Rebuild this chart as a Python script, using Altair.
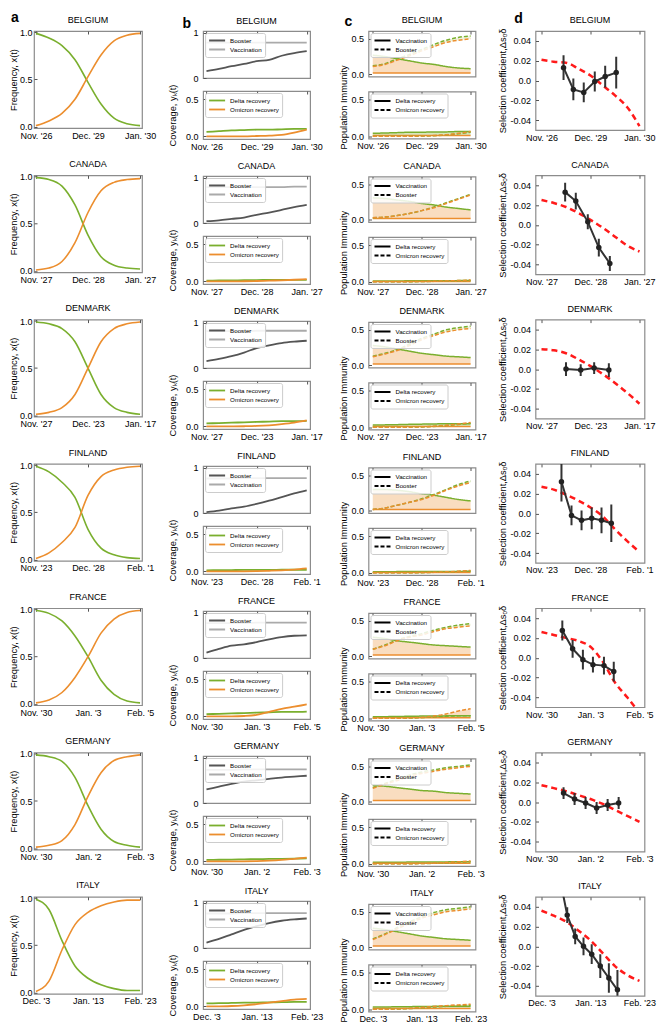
import altair as alt
import pandas as pd

GREEN = "#7aaf2e"
ORANGE = "#ec8e2e"
BOOSTER_GRAY = "#555555"
VACC_GRAY = "#aaaaaa"
RED = "#ff1a1a"
DARK = "#333333"
FONT = "Liberation Sans"

COUNTRIES = ["BELGIUM", "CANADA", "DENMARK", "FINLAND", "FRANCE", "GERMANY", "ITALY"]
T = [0, 1, 2, 3, 4, 5, 6, 7, 8]

X_LABELS = {
    "BELGIUM": ["Nov. '26", "Dec. '29", "Jan. '30"],
    "CANADA": ["Nov. '27", "Dec. '28", "Jan. '27"],
    "DENMARK": ["Nov. '27", "Dec. '23", "Jan. '17"],
    "FINLAND": ["Nov. '23", "Dec. '28", "Feb. '1"],
    "FRANCE": ["Nov. '30", "Jan. '3", "Feb. '5"],
    "GERMANY": ["Nov. '30", "Jan. '2", "Feb. '3"],
    "ITALY": ["Dec. '3", "Jan. '13", "Feb. '23"],
}

# ---- panel a: variant frequencies ----
FREQ_OMICRON = {
    "BELGIUM": [0.01, 0.06, 0.14, 0.29, 0.53, 0.76, 0.91, 0.97, 0.99],
    "CANADA": [0.01, 0.03, 0.10, 0.30, 0.62, 0.85, 0.94, 0.97, 0.98],
    "DENMARK": [0.01, 0.03, 0.08, 0.22, 0.50, 0.78, 0.92, 0.97, 0.99],
    "FINLAND": [0.01, 0.07, 0.18, 0.34, 0.68, 0.88, 0.95, 0.98, 0.99],
    "FRANCE": [0.01, 0.04, 0.12, 0.28, 0.50, 0.75, 0.90, 0.97, 0.99],
    "GERMANY": [0.01, 0.03, 0.08, 0.25, 0.55, 0.80, 0.93, 0.97, 0.99],
    "ITALY": [0.01, 0.12, 0.45, 0.72, 0.85, 0.92, 0.96, 0.98, 0.98],
}
FREQ_DELTA = {
    "BELGIUM": [0.99, 0.94, 0.86, 0.71, 0.47, 0.24, 0.09, 0.03, 0.01],
    "CANADA": [0.99, 0.97, 0.90, 0.70, 0.38, 0.15, 0.06, 0.03, 0.02],
    "DENMARK": [0.99, 0.97, 0.92, 0.78, 0.50, 0.22, 0.08, 0.03, 0.01],
    "FINLAND": [0.99, 0.93, 0.82, 0.66, 0.32, 0.12, 0.05, 0.02, 0.01],
    "FRANCE": [0.99, 0.96, 0.88, 0.72, 0.50, 0.25, 0.10, 0.03, 0.01],
    "GERMANY": [0.99, 0.97, 0.92, 0.75, 0.45, 0.20, 0.07, 0.03, 0.01],
    "ITALY": [0.99, 0.88, 0.55, 0.28, 0.15, 0.08, 0.04, 0.02, 0.02],
}

# ---- panel b: coverage ----
COV_BOOSTER = {
    "BELGIUM": [0.15, 0.20, 0.26, 0.31, 0.37, 0.40, 0.49, 0.55, 0.59],
    "CANADA": [0.04, 0.06, 0.09, 0.12, 0.18, 0.23, 0.29, 0.35, 0.40],
    "DENMARK": [0.15, 0.20, 0.26, 0.34, 0.44, 0.50, 0.55, 0.58, 0.60],
    "FINLAND": [0.02, 0.05, 0.10, 0.14, 0.20, 0.27, 0.35, 0.43, 0.50],
    "FRANCE": [0.12, 0.20, 0.27, 0.30, 0.35, 0.41, 0.46, 0.49, 0.50],
    "GERMANY": [0.30, 0.36, 0.42, 0.47, 0.50, 0.53, 0.56, 0.58, 0.60],
    "ITALY": [0.12, 0.20, 0.30, 0.40, 0.48, 0.55, 0.60, 0.63, 0.65],
}
COV_VACC = {
    "BELGIUM": [0.78, 0.78, 0.78, 0.78, 0.78, 0.78, 0.78, 0.78, 0.78],
    "CANADA": [0.79, 0.79, 0.79, 0.79, 0.79, 0.79, 0.79, 0.80, 0.80],
    "DENMARK": [0.81, 0.81, 0.81, 0.81, 0.82, 0.82, 0.82, 0.82, 0.82],
    "FINLAND": [0.76, 0.76, 0.76, 0.77, 0.77, 0.77, 0.77, 0.77, 0.77],
    "FRANCE": [0.77, 0.77, 0.77, 0.77, 0.78, 0.78, 0.78, 0.78, 0.78],
    "GERMANY": [0.73, 0.73, 0.73, 0.74, 0.74, 0.74, 0.74, 0.74, 0.74],
    "ITALY": [0.76, 0.76, 0.76, 0.77, 0.77, 0.77, 0.77, 0.77, 0.77],
}
COV_DELTA_REC = {
    "BELGIUM": [0.06, 0.07, 0.08, 0.085, 0.09, 0.09, 0.095, 0.10, 0.10],
    "CANADA": [0.01, 0.012, 0.014, 0.016, 0.018, 0.019, 0.02, 0.02, 0.02],
    "DENMARK": [0.04, 0.045, 0.05, 0.055, 0.06, 0.065, 0.07, 0.07, 0.075],
    "FINLAND": [0.015, 0.016, 0.018, 0.02, 0.02, 0.021, 0.022, 0.022, 0.022],
    "FRANCE": [0.03, 0.035, 0.04, 0.045, 0.05, 0.055, 0.06, 0.06, 0.065],
    "GERMANY": [0.02, 0.022, 0.025, 0.028, 0.03, 0.033, 0.035, 0.038, 0.04],
    "ITALY": [0.04, 0.043, 0.046, 0.05, 0.052, 0.055, 0.057, 0.06, 0.06],
}
COV_OMI_REC = {
    "BELGIUM": [0.0, 0.0, 0.0, 0.0, 0.005, 0.01, 0.02, 0.05, 0.09],
    "CANADA": [0.0, 0.0, 0.0, 0.002, 0.005, 0.01, 0.015, 0.022, 0.03],
    "DENMARK": [0.0, 0.0, 0.0, 0.002, 0.006, 0.015, 0.03, 0.05, 0.08],
    "FINLAND": [0.0, 0.0, 0.0, 0.001, 0.003, 0.008, 0.015, 0.025, 0.04],
    "FRANCE": [0.0, 0.0, 0.0, 0.005, 0.02, 0.06, 0.10, 0.13, 0.16],
    "GERMANY": [0.0, 0.0, 0.0, 0.001, 0.004, 0.01, 0.02, 0.035, 0.05],
    "ITALY": [0.0, 0.0, 0.005, 0.015, 0.03, 0.05, 0.07, 0.09, 0.10],
}

# ---- panel c: population immunity ----
IMM_VAC_D = {
    "BELGIUM": [0.27, 0.25, 0.22, 0.19, 0.16, 0.14, 0.11, 0.09, 0.08],
    "CANADA": [0.31, 0.30, 0.28, 0.26, 0.23, 0.21, 0.18, 0.16, 0.14],
    "DENMARK": [0.28, 0.26, 0.23, 0.20, 0.17, 0.15, 0.13, 0.12, 0.11],
    "FINLAND": [0.30, 0.30, 0.29, 0.27, 0.24, 0.22, 0.19, 0.16, 0.14],
    "FRANCE": [0.27, 0.25, 0.22, 0.20, 0.18, 0.16, 0.15, 0.14, 0.13],
    "GERMANY": [0.23, 0.22, 0.20, 0.18, 0.16, 0.15, 0.13, 0.12, 0.11],
    "ITALY": [0.27, 0.25, 0.22, 0.19, 0.16, 0.14, 0.12, 0.11, 0.10],
}
IMM_VAC_O = {
    "BELGIUM": [0.02, 0.02, 0.02, 0.02, 0.02, 0.02, 0.02, 0.02, 0.02],
    "CANADA": [0.02, 0.02, 0.02, 0.02, 0.02, 0.02, 0.02, 0.02, 0.02],
    "DENMARK": [0.02, 0.02, 0.02, 0.02, 0.02, 0.02, 0.02, 0.02, 0.02],
    "FINLAND": [0.02, 0.02, 0.02, 0.02, 0.02, 0.02, 0.02, 0.02, 0.02],
    "FRANCE": [0.02, 0.02, 0.02, 0.02, 0.02, 0.02, 0.02, 0.02, 0.02],
    "GERMANY": [0.02, 0.02, 0.02, 0.02, 0.02, 0.02, 0.02, 0.02, 0.02],
    "ITALY": [0.02, 0.02, 0.02, 0.02, 0.02, 0.02, 0.02, 0.02, 0.02],
}
IMM_BOO_D = {
    "BELGIUM": [0.12, 0.15, 0.22, 0.28, 0.35, 0.42, 0.48, 0.52, 0.54],
    "CANADA": [0.03, 0.04, 0.06, 0.09, 0.13, 0.18, 0.24, 0.30, 0.36],
    "DENMARK": [0.13, 0.17, 0.22, 0.30, 0.38, 0.44, 0.50, 0.53, 0.55],
    "FINLAND": [0.02, 0.04, 0.08, 0.12, 0.17, 0.23, 0.30, 0.37, 0.42],
    "FRANCE": [0.10, 0.16, 0.23, 0.28, 0.32, 0.37, 0.41, 0.44, 0.46],
    "GERMANY": [0.20, 0.26, 0.32, 0.38, 0.42, 0.45, 0.48, 0.50, 0.52],
    "ITALY": [0.12, 0.19, 0.28, 0.36, 0.43, 0.49, 0.53, 0.55, 0.57],
}
IMM_BOO_O = {
    "BELGIUM": [0.11, 0.14, 0.20, 0.26, 0.33, 0.39, 0.45, 0.48, 0.50],
    "CANADA": [0.03, 0.04, 0.06, 0.09, 0.13, 0.17, 0.23, 0.29, 0.35],
    "DENMARK": [0.12, 0.16, 0.21, 0.28, 0.36, 0.42, 0.47, 0.50, 0.52],
    "FINLAND": [0.02, 0.04, 0.08, 0.12, 0.16, 0.22, 0.29, 0.35, 0.40],
    "FRANCE": [0.10, 0.15, 0.22, 0.27, 0.30, 0.35, 0.39, 0.41, 0.43],
    "GERMANY": [0.19, 0.25, 0.30, 0.36, 0.40, 0.43, 0.46, 0.48, 0.50],
    "ITALY": [0.11, 0.18, 0.26, 0.34, 0.41, 0.46, 0.50, 0.52, 0.54],
}
IMM_DREC_D = {
    "BELGIUM": [0.04, 0.045, 0.05, 0.055, 0.055, 0.06, 0.06, 0.065, 0.065],
    "CANADA": [0.01, 0.011, 0.012, 0.013, 0.014, 0.015, 0.015, 0.016, 0.016],
    "DENMARK": [0.03, 0.033, 0.036, 0.04, 0.043, 0.046, 0.048, 0.05, 0.05],
    "FINLAND": [0.015, 0.015, 0.016, 0.017, 0.018, 0.018, 0.019, 0.019, 0.02],
    "FRANCE": [0.02, 0.022, 0.025, 0.027, 0.03, 0.031, 0.033, 0.034, 0.035],
    "GERMANY": [0.02, 0.021, 0.022, 0.023, 0.024, 0.025, 0.026, 0.027, 0.028],
    "ITALY": [0.03, 0.032, 0.034, 0.036, 0.038, 0.04, 0.041, 0.042, 0.043],
}
IMM_DREC_O = {
    "BELGIUM": [0.01, 0.01, 0.01, 0.01, 0.01, 0.01, 0.01, 0.01, 0.01],
    "CANADA": [0.005, 0.005, 0.005, 0.005, 0.005, 0.005, 0.005, 0.005, 0.005],
    "DENMARK": [0.01, 0.01, 0.01, 0.01, 0.01, 0.01, 0.01, 0.01, 0.01],
    "FINLAND": [0.005, 0.005, 0.005, 0.005, 0.005, 0.005, 0.005, 0.005, 0.005],
    "FRANCE": [0.008, 0.008, 0.008, 0.008, 0.008, 0.008, 0.008, 0.008, 0.008],
    "GERMANY": [0.006, 0.006, 0.006, 0.006, 0.006, 0.006, 0.006, 0.006, 0.006],
    "ITALY": [0.01, 0.01, 0.01, 0.01, 0.01, 0.01, 0.01, 0.01, 0.01],
}
IMM_OREC_D = {
    "BELGIUM": [0.0, 0.0, 0.0, 0.0, 0.004, 0.008, 0.018, 0.033, 0.055],
    "CANADA": [0.0, 0.0, 0.0, 0.001, 0.003, 0.006, 0.009, 0.013, 0.018],
    "DENMARK": [0.0, 0.0, 0.0, 0.002, 0.005, 0.012, 0.024, 0.038, 0.055],
    "FINLAND": [0.0, 0.0, 0.0, 0.001, 0.002, 0.006, 0.011, 0.018, 0.026],
    "FRANCE": [0.0, 0.0, 0.0, 0.003, 0.01, 0.02, 0.028, 0.033, 0.036],
    "GERMANY": [0.0, 0.0, 0.0, 0.001, 0.003, 0.007, 0.014, 0.022, 0.03],
    "ITALY": [0.0, 0.0, 0.004, 0.01, 0.02, 0.03, 0.04, 0.048, 0.055],
}
IMM_OREC_O = {
    "BELGIUM": [0.0, 0.0, 0.0, 0.0, 0.005, 0.01, 0.02, 0.04, 0.065],
    "CANADA": [0.0, 0.0, 0.0, 0.002, 0.004, 0.008, 0.012, 0.017, 0.024],
    "DENMARK": [0.0, 0.0, 0.0, 0.002, 0.006, 0.014, 0.028, 0.045, 0.065],
    "FINLAND": [0.0, 0.0, 0.0, 0.001, 0.003, 0.007, 0.013, 0.021, 0.032],
    "FRANCE": [0.0, 0.0, 0.0, 0.005, 0.012, 0.03, 0.06, 0.10, 0.13],
    "GERMANY": [0.0, 0.0, 0.0, 0.001, 0.004, 0.009, 0.017, 0.027, 0.038],
    "ITALY": [0.0, 0.0, 0.005, 0.012, 0.025, 0.038, 0.05, 0.06, 0.07],
}

# ---- panel d: selection coefficient ----
PRED = {
    "BELGIUM": [0.021, 0.019, 0.018, 0.012, 0.005, -0.005, -0.015, -0.027, -0.046],
    "CANADA": [0.025, 0.022, 0.018, 0.012, 0.005, -0.003, -0.012, -0.021, -0.027],
    "DENMARK": [0.020, 0.019, 0.016, 0.010, 0.003, -0.005, -0.014, -0.024, -0.035],
    "FINLAND": [0.027, 0.024, 0.019, 0.013, 0.006, -0.003, -0.016, -0.028, -0.039],
    "FRANCE": [0.026, 0.023, 0.020, 0.017, 0.011, -0.004, -0.025, -0.040, -0.056],
    "GERMANY": [0.017, 0.014, 0.011, 0.007, 0.003, -0.002, -0.008, -0.014, -0.020],
    "ITALY": [0.036, 0.031, 0.025, 0.016, 0.006, -0.007, -0.020, -0.029, -0.035],
}
OBS_T = {
    "BELGIUM": [1.8, 2.6, 3.45, 4.35, 5.2, 6.1],
    "CANADA": [1.93, 2.8, 3.78, 4.68, 5.58],
    "DENMARK": [2.0, 3.2, 4.3, 5.5],
    "FINLAND": [1.63, 2.45, 3.27, 4.1, 4.9, 5.7],
    "FRANCE": [1.7, 2.54, 3.38, 4.2, 5.1, 5.9],
    "GERMANY": [1.8, 2.7, 3.6, 4.5, 5.4, 6.3],
    "ITALY": [1.4, 2.1, 2.75, 3.43, 4.1, 4.8, 5.5, 6.2],
}
OBS_Y = {
    "BELGIUM": [0.013, -0.009, -0.012, -0.001, 0.004, 0.008],
    "CANADA": [0.033, 0.024, 0.003, -0.023, -0.039],
    "DENMARK": [0.0, -0.001, 0.001, -0.001],
    "FINLAND": [0.032, -0.002, -0.007, -0.005, -0.007, -0.010],
    "FRANCE": [0.0275, 0.009, -0.002, -0.007, -0.008, -0.014],
    "GERMANY": [0.009, 0.003, -0.001, -0.006, -0.003, -0.001],
    "ITALY": [0.075, 0.0315, 0.010, 0.0, -0.008, -0.020, -0.032, -0.044],
}
OBS_ERR = {
    "BELGIUM": [0.0125, 0.011, 0.010, 0.010, 0.011, 0.016],
    "CANADA": [0.0095, 0.0085, 0.0076, 0.009, 0.0076],
    "DENMARK": [0.007, 0.006, 0.006, 0.007],
    "FINLAND": [0.020, 0.010, 0.010, 0.011, 0.013, 0.019],
    "FRANCE": [0.010, 0.009, 0.010, 0.008, 0.009, 0.010],
    "GERMANY": [0.006, 0.006, 0.006, 0.006, 0.006, 0.006],
    "ITALY": [0.008, 0.008, 0.008, 0.009, 0.010, 0.012, 0.015, 0.020],
}

PANEL_LETTERS = ["a", "b", "c", "d"]

# ---------------- layout ----------------
W_A, H_A = 108, 97
W_B, H_BT, H_BB, GAP_B = 107, 47, 48, 13
W_C, H_CT, H_CB, GAP_C = 107, 45.5, 47, 14.5
W_D, H_D = 109, 99
PITCH = 144.3

DUMMY = pd.DataFrame({"v": [0]})


def head(c, idx, width, title_dy, letter_dx, letter_dy):
    """Country name above the panel and, for the first row, the panel letter."""
    layers = [alt.Chart(DUMMY).mark_text(fontSize=9, font=FONT, align="center", baseline="alphabetic",
                                         color="black").encode(
        x=alt.value(width / 2), y=alt.value(title_dy), text=alt.value(c))]
    if c == COUNTRIES[0]:
        layers.append(alt.Chart(DUMMY).mark_text(fontSize=14, fontWeight="bold", font=FONT, align="left",
                                                 baseline="alphabetic", color="black").encode(
            x=alt.value(letter_dx), y=alt.value(letter_dy), text=alt.value(PANEL_LETTERS[idx])))
    return layers


def xaxis(c, labels=True):
    l0, l1, l2 = X_LABELS[c]
    expr = f'datum.value == 0 ? "{l0}" : datum.value == 4 ? "{l1}" : "{l2}"'
    return alt.Axis(values=[0, 4, 8], labelExpr=expr, title=None, labels=labels, labelPadding=3,
                    labelOverlap=False)


def long_df(series):
    rows = []
    for name, vals in series:
        for t, v in zip(T, vals):
            rows.append({"t": t, "v": v, "s": name})
    return pd.DataFrame(rows)


def panel_a(c):
    df = long_df([("Delta", FREQ_DELTA[c]), ("Omicron", FREQ_OMICRON[c])])
    lines = alt.Chart(df).mark_line(strokeWidth=1.6, interpolate="monotone").encode(
        x=alt.X("t:Q", scale=alt.Scale(domain=[-0.15, 8.15], nice=False, zero=False), axis=xaxis(c)),
        y=alt.Y("v:Q", scale=alt.Scale(domain=[-0.015, 1.015], nice=False),
                axis=alt.Axis(values=[0, 0.5, 1], format=".1f", title="Frequency, x(t)",
                              labelPadding=2, titlePadding=1, labelOverlap=False)),
        color=alt.Color("s:N", scale=alt.Scale(domain=["Delta", "Omicron"], range=[GREEN, ORANGE]), legend=None),
    )
    return alt.layer(lines, *head(c, 0, W_A, -8.4, -23, -9.2)).properties(width=W_A, height=H_A)


LEG = dict(orient="top-left", title=None, symbolType="stroke", symbolSize=256, clipHeight=9,
           symbolStrokeWidth=1.8, labelFontSize=6.2, labelFont=FONT, padding=3,
           rowPadding=0, offset=2, strokeColor="#cccccc", fillColor="rgba(255,255,255,0.85)",
           cornerRadius=2, labelOffset=4)


def panel_b_top(c):
    df = long_df([("Booster", COV_BOOSTER[c]), ("Vaccination", COV_VACC[c])])
    lines = alt.Chart(df).mark_line(strokeWidth=1.8, interpolate="monotone").encode(
        x=alt.X("t:Q", scale=alt.Scale(domain=[-0.27, 8.27], nice=False, zero=False), axis=xaxis(c, False)),
        y=alt.Y("v:Q", scale=alt.Scale(domain=[0, 1.035], nice=False),
                axis=alt.Axis(values=[0, 1], format="d", title=None, labelPadding=5, labelOverlap=False)),
        color=alt.Color("s:N", scale=alt.Scale(domain=["Booster", "Vaccination"], range=[BOOSTER_GRAY, VACC_GRAY]),
                        legend=alt.Legend(**LEG)),
    )
    return alt.layer(lines, *head(c, 1, W_B, -6.7, -20.6, -3.2)).properties(width=W_B, height=H_BT)


def panel_b_bot(c):
    df = long_df([("Delta recovery", COV_DELTA_REC[c]), ("Omicron recovery", COV_OMI_REC[c])])
    return alt.Chart(df).mark_line(strokeWidth=1.8, interpolate="monotone").encode(
        x=alt.X("t:Q", scale=alt.Scale(domain=[-0.27, 8.27], nice=False, zero=False), axis=xaxis(c)),
        y=alt.Y("v:Q", scale=alt.Scale(domain=[-0.035, 0.61], nice=False),
                axis=alt.Axis(values=[0, 0.5], format=".1f", title="Coverage, yₖ(t)",
                              labelPadding=5, titlePadding=8, labelOverlap=False)),
        color=alt.Color("s:N", scale=alt.Scale(domain=["Delta recovery", "Omicron recovery"], range=[GREEN, ORANGE]),
                        legend=alt.Legend(**LEG)),
    ).properties(width=W_B, height=H_BB)


def panel_c(c, kinds, d_lists, o_lists, fill_colors, height, ytitle, labels, top):
    rows = []
    for kind, dv, ov in zip(kinds, d_lists, o_lists):
        for t, a, b in zip(T, dv, ov):
            rows.append({"t": t, "v": a, "k": kind, "tg": "Delta"})
            rows.append({"t": t, "v": b, "k": kind, "tg": "Omicron"})
    df = pd.DataFrame(rows)
    xs = alt.X("t:Q", scale=alt.Scale(domain=[-0.35, 8.4], nice=False, zero=False), axis=xaxis(c, labels))
    yscale = alt.Scale(domain=[-0.03, 0.61], nice=False)
    if ytitle:
        yaxis = alt.Axis(values=[0, 0.5], format=".1f", title=ytitle, labelPadding=5, titlePadding=2,
                         titleY=height / 2 - 8, labelOverlap=False)
    else:
        yaxis = alt.Axis(values=[0, 0.5], format=".1f", title=None, labelPadding=5, labelOverlap=False)
    areas = []
    for kind, dv, ov, fc in zip(kinds, d_lists, o_lists, fill_colors):
        fdf = pd.DataFrame({"t": T, "lo": [min(a, b) for a, b in zip(dv, ov)],
                            "hi": [max(a, b) for a, b in zip(dv, ov)]})
        areas.append(alt.Chart(fdf).mark_area(opacity=0.3, color=fc, interpolate="monotone").encode(
            x=xs, y=alt.Y("lo:Q", scale=yscale, axis=yaxis), y2="hi:Q"))
    lines = alt.Chart(df).mark_line(strokeWidth=1.5, interpolate="monotone").encode(
        x=xs,
        y=alt.Y("v:Q", scale=yscale, axis=yaxis),
        color=alt.Color("tg:N", scale=alt.Scale(domain=["Delta", "Omicron"], range=[GREEN, ORANGE]), legend=None),
        strokeDash=alt.StrokeDash("k:N", scale=alt.Scale(domain=kinds, range=[[1, 0], [4, 2]]),
                                  legend=alt.Legend(symbolStrokeColor="black", **LEG)),
    )
    extra = head(c, 2, W_C, -7.9, -24, -4.7) if top else []
    return alt.layer(*areas, lines, *extra).properties(width=W_C, height=height)


def panel_c_top(c):
    return panel_c(c, ["Vaccination", "Booster"], [IMM_VAC_D[c], IMM_BOO_D[c]],
                   [IMM_VAC_O[c], IMM_BOO_O[c]], [ORANGE, "#c8d88a"], H_CT, None, False, True)


def panel_c_bot(c):
    return panel_c(c, ["Delta recovery", "Omicron recovery"], [IMM_DREC_D[c], IMM_OREC_D[c]],
                   [IMM_DREC_O[c], IMM_OREC_O[c]], [GREEN, ORANGE], H_CB, "Population Immunity", True, False)


def panel_d(c):
    pdf = pd.DataFrame({"t": T, "v": PRED[c]})
    odf = pd.DataFrame({"t": OBS_T[c], "v": OBS_Y[c], "e": OBS_ERR[c]})
    xs = alt.X("t:Q", scale=alt.Scale(domain=[-0.49, 8.41], nice=False, zero=False), axis=xaxis(c))
    yscale = alt.Scale(domain=[-0.05, 0.05], nice=False)
    lab = ('datum.value == 0 ? "0.0" : (datum.value < 0 ? "-" + format(-datum.value, ".2f") '
           ': format(datum.value, ".2f"))')
    yaxis = alt.Axis(values=[-0.04, -0.02, 0, 0.02, 0.04], labelExpr=lab, title="Selection coefficient,Δsₒδ",
                     labelPadding=5, titlePadding=2, labelOverlap=False)
    pred = alt.Chart(pdf).mark_line(color=RED, strokeWidth=2.5, strokeDash=[6, 4], interpolate="monotone",
                                    clip=True).encode(x=xs, y=alt.Y("v:Q", scale=yscale, axis=yaxis))
    bars = alt.Chart(odf).transform_calculate(lo="datum.v - datum.e", hi="datum.v + datum.e").mark_rule(
        color=DARK, strokeWidth=2, clip=True).encode(x=xs, y=alt.Y("lo:Q", scale=yscale, axis=yaxis), y2="hi:Q")
    obs_line = alt.Chart(odf).mark_line(color=DARK, strokeWidth=2, clip=True).encode(
        x=xs, y=alt.Y("v:Q", scale=yscale, axis=yaxis))
    pts = alt.Chart(odf).mark_circle(color="#222222", size=30, opacity=1, clip=True).encode(
        x=xs, y=alt.Y("v:Q", scale=yscale, axis=yaxis))
    return alt.layer(pred, bars, obs_line, pts, *head(c, 3, W_D, -7.7, -21.3, -8.5)).properties(
        width=W_D, height=H_D)


def spacer(w, h):
    return alt.Chart(DUMMY).mark_point(opacity=0).encode(
        x=alt.X("v:Q", axis=None), y=alt.Y("v:Q", axis=None)
    ).properties(width=w, height=h, view=alt.ViewBackground(stroke="transparent"))


def indep(ch):
    return ch.resolve_scale(x="independent", y="independent", color="independent",
                            strokeDash="independent").resolve_legend(
        color="independent", strokeDash="independent")


def column(items, spacing):
    return indep(alt.vconcat(*items, spacing=spacing, bounds="flush"))


items_b, items_c = [], []
for i, c in enumerate(COUNTRIES):
    items_b += [panel_b_top(c), panel_b_bot(c)]
    items_c += [panel_c_top(c), panel_c_bot(c)]
    if i < len(COUNTRIES) - 1:
        items_b.append(spacer(W_B, PITCH - H_BT - H_BB - 3 * GAP_B))
        items_c.append(spacer(W_C, PITCH - H_CT - H_CB - 3 * GAP_C))

col_a = column([panel_a(c) for c in COUNTRIES], PITCH - H_A)
col_b = column(items_b, GAP_B)
col_c = column(items_c, GAP_C)
col_d = column([panel_d(c) for c in COUNTRIES], PITCH - H_D)

right = indep(alt.hconcat(col_c, col_d, spacing=10))
mid = indep(alt.hconcat(col_b, right, spacing=14.4))
chart = indep(alt.hconcat(col_a, mid, spacing=10.1))

# short inward tick marks are drawn as the first few pixels of dashed grid lines
chart = chart.properties(
    padding={"left": 0, "top": 2, "right": 0, "bottom": 0}
).configure(font=FONT).configure_view(stroke="#8c8c8c", strokeWidth=1.2).configure_axis(
    labelFont=FONT, labelFontSize=9, labelColor="black", titleFont=FONT, titleFontSize=9.3,
    titleFontWeight="normal", titleColor="black", domain=False, ticks=False,
    grid=True, gridDash=[3, 2000], gridColor="#555555", gridWidth=1, gridOpacity=1
)

chart.save("out.html", embed_options={"renderer": "svg", "actions": False})
